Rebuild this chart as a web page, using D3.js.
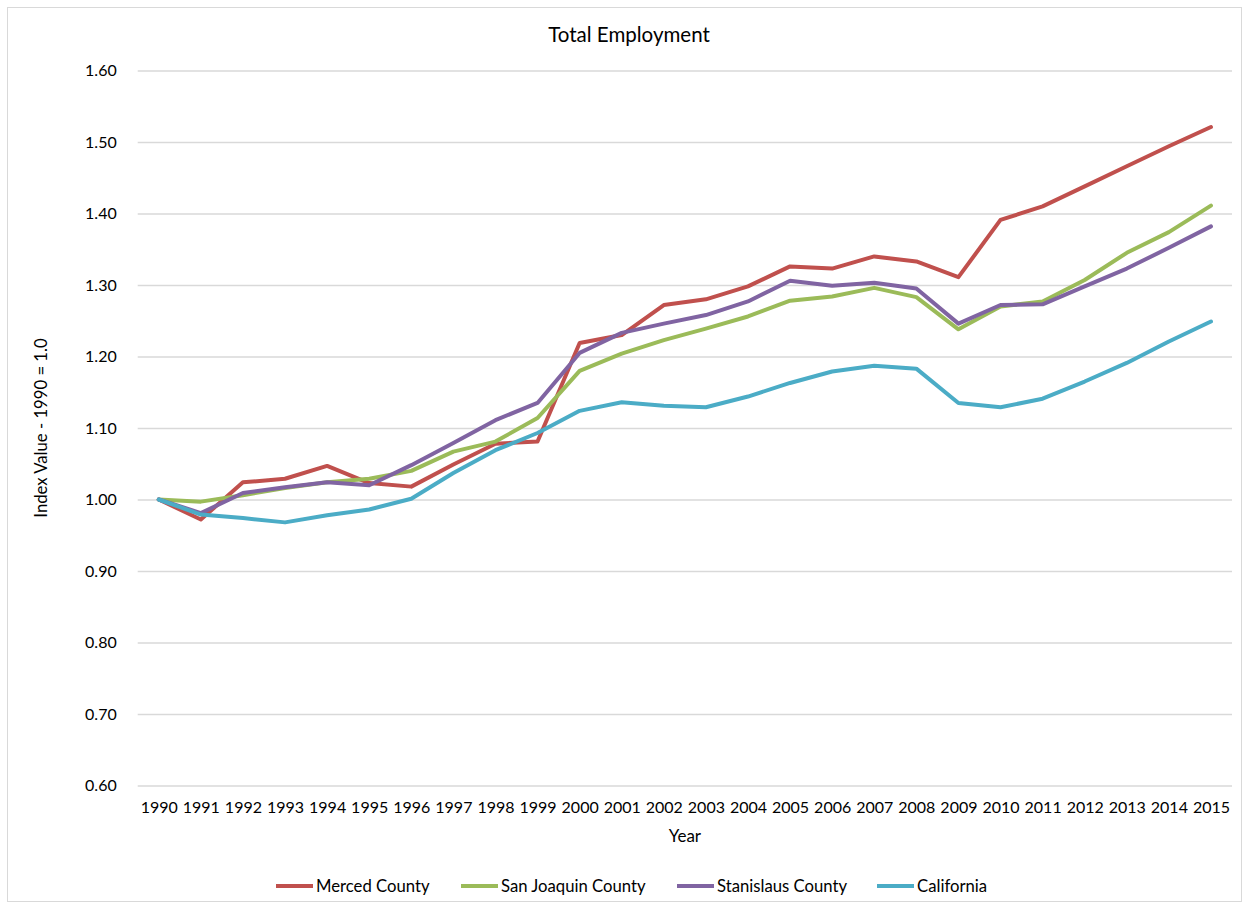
<!DOCTYPE html>
<html>
<head>
<meta charset="utf-8">
<script src="https://cdn.jsdelivr.net/npm/d3@7/dist/d3.min.js"></script>
<style>
  html, body { margin: 0; padding: 0; background: #fff; }
  svg { display: block; }
  text { font-family: Lato, "Open Sans", sans-serif; fill: #000; }
</style>
</head>
<body>
<svg id="chart" width="1249" height="909"></svg>
<script>
const years = ["1990","1991","1992","1993","1994","1995","1996","1997","1998","1999","2000","2001","2002","2003","2004","2005","2006","2007","2008","2009","2010","2011","2012","2013","2014","2015"];
const merced = [1.000,0.972,1.024,1.029,1.047,1.023,1.018,1.049,1.078,1.081,1.219,1.230,1.272,1.280,1.298,1.326,1.323,1.340,1.333,1.311,1.391,1.410,1.438,1.466,1.494,1.521];
const sanJoaquin = [1.000,0.997,1.006,1.016,1.024,1.029,1.040,1.067,1.081,1.114,1.180,1.204,1.223,1.239,1.256,1.278,1.284,1.296,1.283,1.238,1.270,1.277,1.307,1.345,1.374,1.411];
const stanislaus = [1.000,0.981,1.009,1.017,1.024,1.020,1.048,1.079,1.111,1.135,1.205,1.233,1.246,1.258,1.277,1.306,1.299,1.303,1.295,1.246,1.272,1.273,1.298,1.323,1.352,1.382];
const california = [1.000,0.979,0.974,0.968,0.978,0.986,1.001,1.037,1.069,1.093,1.124,1.136,1.131,1.129,1.144,1.163,1.179,1.187,1.183,1.135,1.129,1.141,1.165,1.191,1.221,1.249];
const seriesNames = ["Merced County","San Joaquin County","Stanislaus County","California"];
const seriesColors = ["#C0504D","#9BBB59","#8064A2","#4BACC6"];
const yTicks = [0.6,0.7,0.8,0.9,1.0,1.1,1.2,1.3,1.4,1.5,1.6];
const titleText = "Total Employment";
const xTitle = "Year";
const yTitle = "Index Value - 1990 = 1.0";

const seriesValues = [merced, sanJoaquin, stanislaus, california];
const series = seriesNames.map((n, i) => ({ name: n, color: seriesColors[i], values: seriesValues[i] }));

const W = 1249, H = 909;
const plot = { left: 137.7, right: 1232, top: 70.5, bottom: 785.5 };
const svg = d3.select("#chart");

svg.append("rect").attr("x", 7.5).attr("y", 7.5).attr("width", W - 15).attr("height", H - 15)
  .attr("fill", "#fff").attr("stroke", "#d9d9d9").attr("stroke-width", 1);

const x = d3.scalePoint().domain(years).range([plot.left, plot.right]).padding(0.5);
const y = d3.scaleLinear().domain([0.6, 1.6]).range([plot.bottom, plot.top]);

// gridlines + y labels
const yAxis = d3.axisLeft(y).tickValues(yTicks).tickFormat(d3.format(".2f"))
  .tickSize(-(plot.right - plot.left)).tickPadding(21);
const gy = svg.append("g").attr("transform", `translate(${plot.left},0)`).call(yAxis);
gy.select(".domain").remove();
gy.selectAll(".tick line").attr("stroke", "#d9d9d9").attr("stroke-width", 1.3);
gy.selectAll(".tick text").attr("font-size", 16).attr("fill", "#000")
  .style("font-family", "Lato, sans-serif");

const xAxis = d3.axisBottom(x).tickSize(0).tickPadding(16);
const gx = svg.append("g").attr("transform", `translate(0,${plot.bottom})`).call(xAxis);
gx.select(".domain").remove();
gx.selectAll(".tick text").attr("font-size", 16).attr("fill", "#000")
  .style("font-family", "Lato, sans-serif");

// lines
const line = d3.line().x((d, i) => x(years[i])).y(d => y(d));
svg.append("g").selectAll("path").data(series).join("path")
  .attr("d", d => line(d.values))
  .attr("fill", "none").attr("stroke", d => d.color)
  .attr("stroke-width", 4).attr("stroke-linejoin", "round").attr("stroke-linecap", "round");

// titles
svg.append("text").attr("x", 629).attr("y", 42)
  .attr("text-anchor", "middle").attr("font-size", 20.5).text(titleText);
svg.append("text").attr("x", (plot.left + plot.right) / 2).attr("y", 842)
  .attr("text-anchor", "middle").attr("font-size", 17).text(xTitle);
svg.append("text").attr("transform", `translate(47,${(plot.top + plot.bottom) / 2}) rotate(-90)`)
  .attr("text-anchor", "middle").attr("font-size", 16.7).text(yTitle);

// legend
const legendX = [276, 461, 677, 877];
const lg = svg.append("g").selectAll("g").data(series).join("g")
  .attr("transform", (d, i) => `translate(${legendX[i]},886)`);
lg.append("line").attr("x1", 0).attr("x2", 37).attr("y1", 0).attr("y2", 0)
  .attr("stroke", d => d.color).attr("stroke-width", 4).attr("stroke-linecap", "butt");
lg.append("text").attr("x", 40).attr("y", 6).attr("font-size", 16.7).text(d => d.name);
</script>
</body>
</html>
